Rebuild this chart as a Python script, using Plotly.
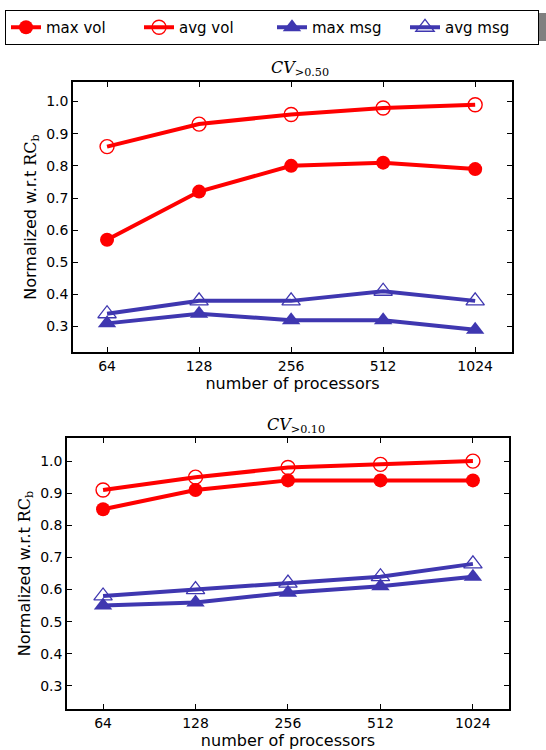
import plotly.graph_objects as go

procs = ["64", "128", "256", "512", "1024"]

top_max_vol = [0.57, 0.72, 0.80, 0.81, 0.79]
top_avg_vol = [0.86, 0.93, 0.96, 0.98, 0.99]
top_max_msg = [0.31, 0.34, 0.32, 0.32, 0.29]
top_avg_msg = [0.34, 0.38, 0.38, 0.41, 0.38]

bot_max_vol = [0.85, 0.91, 0.94, 0.94, 0.94]
bot_avg_vol = [0.91, 0.95, 0.98, 0.99, 1.00]
bot_max_msg = [0.55, 0.56, 0.59, 0.61, 0.64]
bot_avg_msg = [0.58, 0.60, 0.62, 0.64, 0.68]

ytick_vals = [0.3, 0.4, 0.5, 0.6, 0.7, 0.8, 0.9, 1.0]
ytick_text = ["0.3", "0.4", "0.5", "0.6", "0.7", "0.8", "0.9", "1.0"]

RED = "#ff0000"
BLUE = "#3f37b0"
FONT = "DejaVu Sans"

series_names = ["max vol", "avg vol", "max msg", "avg msg"]
styles = [
    dict(color=RED, symbol="circle", size=14, lw=0),
    dict(color=RED, symbol="circle-open", size=14, lw=1.4),
    dict(color=BLUE, symbol="triangle-up", size=16, lw=0),
    dict(color=BLUE, symbol="triangle-up-open", size=16, lw=1.3),
]

fig = go.Figure()

def add_panel(data, xa, ya, show):
    for name, vals, st in zip(series_names, data, styles):
        fig.add_trace(go.Scatter(
            x=list(range(len(procs))), y=vals, name=name, mode="lines+markers",
            line=dict(color=st["color"], width=4),
            marker=dict(symbol=st["symbol"], size=st["size"], color=st["color"],
                        line=dict(color=st["color"], width=st["lw"])),
            xaxis=xa, yaxis=ya, showlegend=show,
        ))

add_panel([top_max_vol, top_avg_vol, top_max_msg, top_avg_msg], "x", "y", True)
add_panel([bot_max_vol, bot_avg_vol, bot_max_msg, bot_avg_msg], "x2", "y2", False)

axis_common = dict(
    showgrid=False, zeroline=False, showline=True, linecolor="black", linewidth=1.5,
    mirror="ticks", ticks="inside", ticklen=5, tickwidth=1, tickcolor="black",
    tickfont=dict(family=FONT, size=14, color="black"), automargin=False,
)

ytitle = dict(text="Normalized w.r.t <span style='font-family:DejaVu Serif'>RC<sub>b</sub></span>",
              font=dict(family=FONT, size=16, color="black"), standoff=6)
xtitle = dict(text="number of processors", font=dict(family=FONT, size=16, color="black"), standoff=4)

fig.update_layout(
    width=546, height=750,
    margin=dict(l=0, r=0, t=0, b=0),
    paper_bgcolor="white", plot_bgcolor="white",
    font=dict(family=FONT, color="black"),
    xaxis=dict(axis_common, domain=[0.1337, 0.9377], anchor="y", range=[-0.37, 4.4],
               tickvals=list(range(5)), ticktext=procs, title=xtitle),
    yaxis=dict(axis_common, domain=[0.5307, 0.8907], anchor="x", range=[0.221, 1.061],
               tickvals=ytick_vals, ticktext=ytick_text, title=ytitle),
    xaxis2=dict(axis_common, domain=[0.1227, 0.9322], anchor="y2", range=[-0.39, 4.39],
                tickvals=list(range(5)), ticktext=procs, title=xtitle),
    yaxis2=dict(axis_common, domain=[0.0547, 0.416], anchor="x2", range=[0.228, 1.072],
                tickvals=ytick_vals, ticktext=ytick_text, title=ytitle),
    legend=dict(orientation="h", x=5 / 546, xanchor="left", y=1 - 10 / 750, yanchor="top",
                bgcolor="white", bordercolor="black", borderwidth=1,
                font=dict(family=FONT, size=15, color="black"),
                entrywidth=88, entrywidthmode="pixels", itemwidth=30,
                tracegroupgap=0),
    annotations=[
        dict(text="<i>CV</i><sub>&gt;0.50</sub>", x=300 / 546, y=1 - 81 / 750,
             xref="paper", yref="paper", showarrow=False, yanchor="bottom",
             font=dict(family="DejaVu Serif", size=16, color="black")),
        dict(text="<i>CV</i><sub>&gt;0.10</sub>", x=296 / 546, y=1 - 438 / 750,
             xref="paper", yref="paper", showarrow=False, yanchor="bottom",
             font=dict(family="DejaVu Serif", size=16, color="black")),
    ],
    shapes=[
        dict(type="rect", xref="paper", yref="paper", x0=8 / 546, x1=1.01,
             y0=1 - 41 / 750, y1=1 - 13 / 750, fillcolor="#808080", line=dict(width=0),
             layer="below"),
    ],
)

fig.write_html("out.html", config={"displayModeBar": False},
               post_script="document.body.style.margin='0px';")
